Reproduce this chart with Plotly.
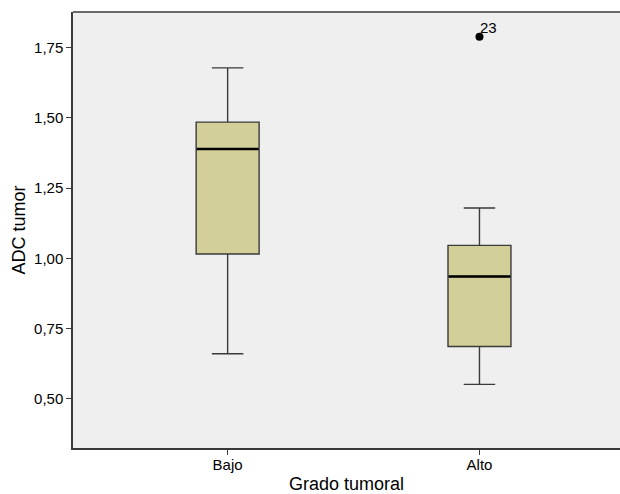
import plotly.graph_objects as go

categories = ["Bajo", "Alto"]
lower_whisker = [0.660, 0.551]
q1 = [1.015, 0.686]
median = [1.389, 0.935]
q3 = [1.485, 1.046]
upper_whisker = [1.678, 1.179]

outlier_cat = ["Alto"]
outlier_val = [1.789]
outlier_label = ["23"]

y_ticks = [0.50, 0.75, 1.00, 1.25, 1.50, 1.75]
y_tick_text = ["0,50", "0,75", "1,00", "1,25", "1,50", "1,75"]

BOX_FILL = "#d3cf98"
LINE = "#3a3a3a"
FONT = "Liberation Sans, Arial, sans-serif"

fig = go.Figure()
fig.add_trace(go.Box(
    x=categories, q1=q1, median=median, q3=q3,
    lowerfence=lower_whisker, upperfence=upper_whisker,
    fillcolor=BOX_FILL, line=dict(color=LINE, width=1.4),
    width=0.25, whiskerwidth=0.5, boxpoints=False, showlegend=False,
    hoverinfo="skip",
))
# thicker black median line
fig.add_trace(go.Box(
    x=categories, q1=median, median=median, q3=median,
    lowerfence=median, upperfence=median,
    fillcolor="rgba(0,0,0,0)", line=dict(color="#000000", width=2.6),
    width=0.245, whiskerwidth=0, boxpoints=False, showlegend=False,
    hoverinfo="skip",
))
fig.add_trace(go.Scatter(
    x=outlier_cat, y=outlier_val, mode="markers",
    marker=dict(color="#000", size=8), showlegend=False,
))
for c, v, t in zip(outlier_cat, outlier_val, outlier_label):
    fig.add_annotation(
        x=c, y=v, text=t, showarrow=False,
        xanchor="left", yanchor="bottom", xshift=-1, yshift=-1,
        font=dict(family=FONT, size=15, color="#000"),
    )

fig.update_layout(
    width=620, height=494,
    margin=dict(l=73, r=0, t=12, b=46, autoexpand=False),
    paper_bgcolor="white", plot_bgcolor="#efefef",
    font=dict(family=FONT, color="#000"),
    boxmode="overlay",
)
fig.update_xaxes(
    type="category", categoryorder="array", categoryarray=categories,
    range=[-0.614, 1.558], automargin=False,
    showline=True, mirror=False, linecolor=LINE, linewidth=1.5,
    ticks="outside", ticklen=5, tickcolor=LINE, tickwidth=1.2,
    showgrid=False, zeroline=False,
    tickfont=dict(size=15, family=FONT),
    ticklabelstandoff=-3,
    title=dict(text="Grado tumoral", font=dict(size=18, family=FONT), standoff=8),
)
fig.update_yaxes(
    range=[0.3244, 1.877], automargin=False,
    tickvals=y_ticks, ticktext=y_tick_text,
    showline=True, linecolor=LINE, linewidth=1.5,
    ticks="outside", ticklen=5, tickcolor=LINE, tickwidth=1.2,
    showgrid=False, zeroline=False,
    tickfont=dict(size=15, family=FONT),
    title=dict(text="ADC tumor", font=dict(size=18, family=FONT), standoff=4),
)
# top frame line
fig.add_shape(type="line", xref="paper", yref="paper", x0=0, x1=1, y0=1, y1=1,
              line=dict(color=LINE, width=1.5))

fig.write_html(
    "out.html",
    config={"displayModeBar": False, "responsive": False},
    post_script=(
        "document.documentElement.style.overflow='hidden';"
        "document.body.style.margin='0';document.body.style.overflow='hidden';"
    ),
)
